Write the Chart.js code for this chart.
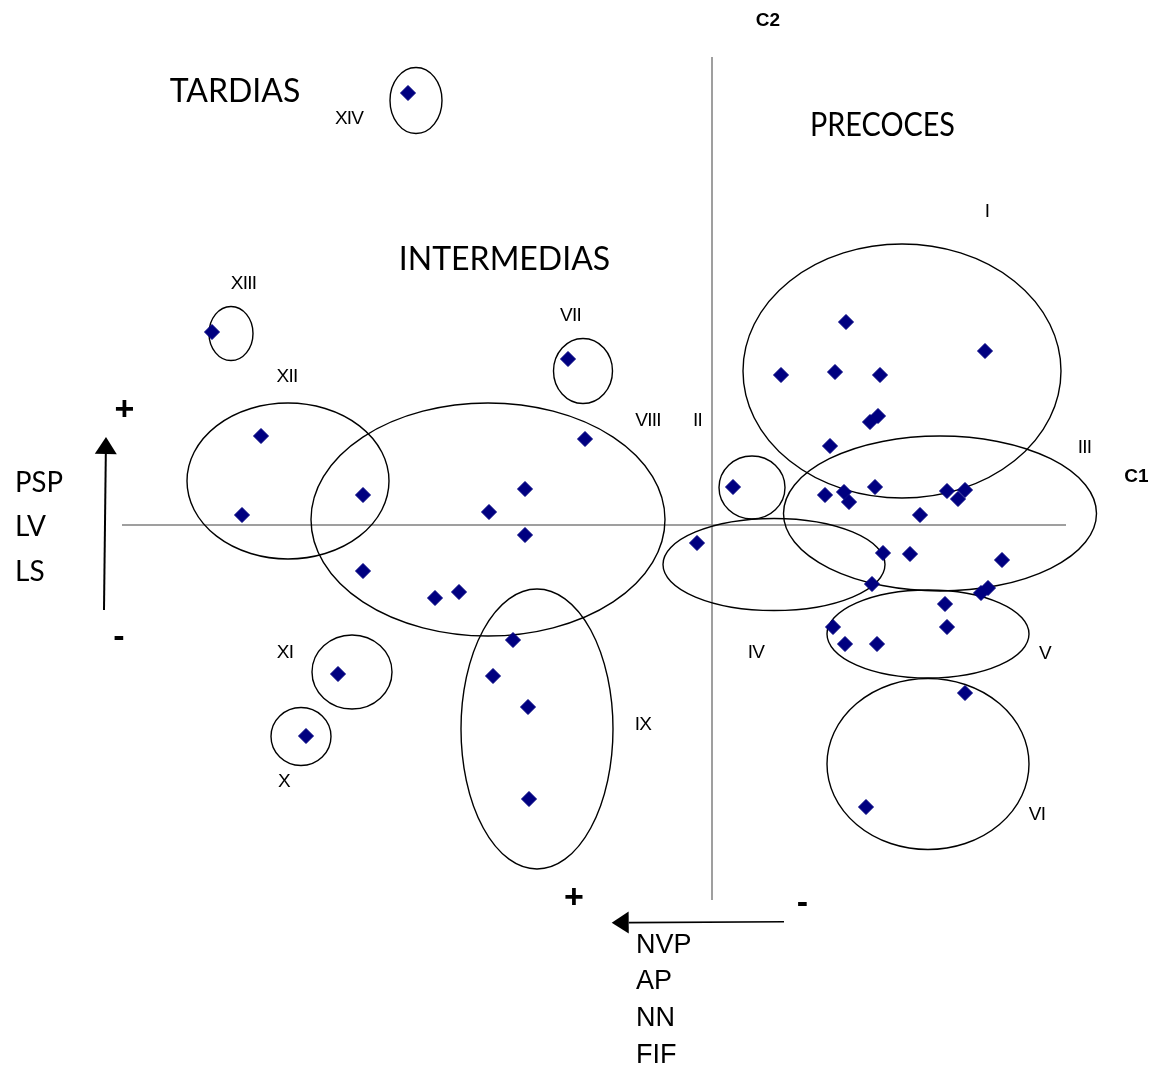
<!DOCTYPE html>
<html>
<head>
<meta charset="utf-8">
<title>C1 / C2</title>
<script src="https://cdn.jsdelivr.net/npm/chart.js@4/dist/chart.umd.min.js"></script>
<style>
  html, body { margin: 0; padding: 0; background: #fff; }
  #wrap { width: 1163px; height: 1072px; position: relative; }
</style>
</head>
<body>
<div id="wrap"><canvas id="scoreChart"></canvas></div>
<script>
// Scores of each accession on the two components
const scoresC1 = [
  1.34, 2.73, 0.69, 1.23, 1.68, 1.58, 1.66, 1.18,
  0.21,
  1.13, 1.32, 1.37, 1.63, 2.35, 2.53, 2.46, 2.08, 1.71, 1.98, 2.90, 1.60, 2.76, 2.69, 2.33,
  2.35, 1.21, 1.33, 1.65,
  2.53, 1.54,
  -0.15,
  -3.04, -5.00, -1.44,
  -4.51, -4.70, -3.49, -3.49, -2.77, -2.53, -2.23, -1.87, -1.87, -1.27,
  -1.99, -2.19, -1.84, -1.83,
  -3.74, -4.06
];
const scoresC2 = [
  2.03, 1.74, 1.50, 1.53, 1.50, 1.03, 1.09, 0.79,
  0.38,
  0.30, 0.33, 0.23, 0.38, 0.34, 0.35, 0.26, 0.10, -0.28, -0.29, -0.35, -0.59, -0.63, -0.68, -0.79,
  -1.02, -1.02, -1.19, -1.19,
  -1.68, -2.82,
  -0.18,
  4.32, 1.93, 1.66,
  0.89, 0.10, 0.30, -0.46, -0.73, -0.67, 0.13, 0.36, -0.10, 0.86,
  -1.15, -1.51, -1.82, -2.74,
  -1.49, -2.11
];

// Groups circled on the plot (centre and half axes, in score units)
const groupNames = ["I", "II", "III", "IV", "V", "VI", "VII", "VIII", "IX", "X", "XI", "XII", "XIII", "XIV"];
const groupCx = [1.90, 0.40, 2.28, 0.62, 2.16, 2.16, -1.29, -2.24, -1.75, -4.11, -3.60, -4.24, -4.81, -2.96];
const groupCy = [1.54, 0.375, 0.115, -0.395, -1.09, -2.39, 1.54, 0.055, -2.04, -2.115, -1.47, 0.44, 1.915, 4.245];
const groupRx = [1.59, 0.33, 1.565, 1.11, 1.01, 1.01, 0.295, 1.77, 0.76, 0.30, 0.40, 1.01, 0.22, 0.26];
const groupRy = [1.27, 0.315, 0.775, 0.46, 0.44, 0.855, 0.325, 1.165, 1.40, 0.29, 0.37, 0.78, 0.27, 0.33];
const groupLabelX = [2.75, -0.145, 3.725, 0.44, 3.33, 3.25, -1.415, -0.64, -0.69, -4.28, -4.27, -4.25, -4.685, -3.63];
const groupLabelY = [3.13, 1.04, 0.775, -1.28, -1.285, -2.895, 2.09, 1.04, -2.00, -2.57, -1.28, 1.48, 2.41, 4.06];

// Visible window and drawn component axes
const c1Range = [-7.12, 4.51];
const c2Range = [-5.47, 5.25];
const c1AxisExtent = [-5.90, 3.54];
const c2AxisExtent = [-3.75, 4.68];

// Maturity classes
const classNames = ["TARDIAS", "INTERMEDIAS", "PRECOCES"];
const classX = [-4.77, -2.075, 1.705];
const classY = [4.33, 2.65, 3.99];

// Variables loading on each component
const c2Vars = ["PSP", "LV", "LS"];
const c2VarsY = [0.42, -0.02, -0.47];
const c1Vars = ["NVP", "AP", "NN", "FIF"];
const c1VarsY = [-4.21, -4.57, -4.94, -5.305];

const comicFont = "Lato, 'Open Sans', sans-serif";
const plainFont = "'Liberation Sans', Arial, sans-serif";

function drawArrow(ctx, x1, y1, x2, y2) {
  const ang = Math.atan2(y2 - y1, x2 - x1);
  const head = 17, half = 11;
  ctx.beginPath();
  ctx.moveTo(x1, y1);
  ctx.lineTo(x2 - Math.cos(ang) * head, y2 - Math.sin(ang) * head);
  ctx.stroke();
  ctx.beginPath();
  ctx.moveTo(x2, y2);
  ctx.lineTo(x2 - Math.cos(ang) * head + Math.sin(ang) * half, y2 - Math.sin(ang) * head - Math.cos(ang) * half);
  ctx.lineTo(x2 - Math.cos(ang) * head - Math.sin(ang) * half, y2 - Math.sin(ang) * head + Math.cos(ang) * half);
  ctx.closePath();
  ctx.fill();
}

// Draws the axes, group ellipses and all the text around the scatter
const overlay = {
  id: "overlay",
  beforeDatasetsDraw(chart) {
    const { ctx, scales: { x, y } } = chart;
    ctx.save();

    // component axes
    ctx.strokeStyle = "#808080";
    ctx.lineWidth = 1.5;
    ctx.beginPath();
    ctx.moveTo(x.getPixelForValue(c1AxisExtent[0]), y.getPixelForValue(0));
    ctx.lineTo(x.getPixelForValue(c1AxisExtent[1]), y.getPixelForValue(0));
    ctx.moveTo(x.getPixelForValue(0), y.getPixelForValue(c2AxisExtent[0]));
    ctx.lineTo(x.getPixelForValue(0), y.getPixelForValue(c2AxisExtent[1]));
    ctx.stroke();

    // group ellipses
    ctx.strokeStyle = "#000";
    ctx.lineWidth = 1.4;
    groupNames.forEach((g, i) => {
      const cx = x.getPixelForValue(groupCx[i]);
      const cy = y.getPixelForValue(groupCy[i]);
      const rx = Math.abs(x.getPixelForValue(groupCx[i] + groupRx[i]) - cx);
      const ry = Math.abs(y.getPixelForValue(groupCy[i] + groupRy[i]) - cy);
      ctx.beginPath();
      ctx.ellipse(cx, cy, rx, ry, 0, 0, Math.PI * 2);
      ctx.stroke();
    });
    ctx.restore();
  },
  afterDraw(chart) {
    const { ctx, scales: { x, y } } = chart;
    ctx.save();
    ctx.fillStyle = "#000";
    ctx.textAlign = "center";
    ctx.textBaseline = "middle";

    // group numbers
    ctx.font = "19px " + plainFont;
    ctx.letterSpacing = "-0.8px";
    groupNames.forEach((g, i) => {
      ctx.fillText(g, x.getPixelForValue(groupLabelX[i]), y.getPixelForValue(groupLabelY[i]));
    });
    ctx.letterSpacing = "0px";

    // class titles
    ctx.font = "32px " + comicFont;
    const classWidth = [135, 214, 145];
    classNames.forEach((t, i) => {
      ctx.fillText(t, x.getPixelForValue(classX[i]), y.getPixelForValue(classY[i]), classWidth[i]);
    });

    // component names
    ctx.font = "bold 19px " + plainFont;
    ctx.fillText("C2", x.getPixelForValue(0.56), y.getPixelForValue(5.04));
    ctx.fillText("C1", x.getPixelForValue(4.245), y.getPixelForValue(0.485));

    // variables on C2 (left)
    ctx.textAlign = "left";
    ctx.font = "28px " + comicFont;
    c2Vars.forEach((v, i) => {
      ctx.fillText(v, x.getPixelForValue(-6.97), y.getPixelForValue(c2VarsY[i]), v.length * 16);
    });

    // variables on C1 (bottom)
    ctx.font = "27px " + plainFont;
    c1Vars.forEach((v, i) => {
      ctx.fillText(v, x.getPixelForValue(-0.76), y.getPixelForValue(c1VarsY[i]));
    });

    // signs
    ctx.textAlign = "center";
    ctx.font = "bold 34px " + plainFont;
    ctx.fillText("+", x.getPixelForValue(-5.875), y.getPixelForValue(1.14));
    ctx.fillText("-", x.getPixelForValue(-5.93), y.getPixelForValue(-1.13));
    ctx.fillText("+", x.getPixelForValue(-1.38), y.getPixelForValue(-3.735));
    ctx.fillText("-", x.getPixelForValue(0.905), y.getPixelForValue(-3.79));

    // direction arrows
    ctx.strokeStyle = "#000";
    ctx.lineWidth = 2;
    drawArrow(ctx, x.getPixelForValue(-6.08), y.getPixelForValue(-0.85), x.getPixelForValue(-6.06), y.getPixelForValue(0.88));
    ctx.lineWidth = 1.6;
    drawArrow(ctx, x.getPixelForValue(0.72), y.getPixelForValue(-3.967), x.getPixelForValue(-1.003), y.getPixelForValue(-3.977));
    ctx.restore();
  }
};

const ctx = document.getElementById("scoreChart").getContext("2d");
const chart = new Chart(ctx, {
  type: "scatter",
  data: {
    datasets: [
      {
        label: "Accesiones",
        data: scoresC1.map((v, i) => ({ x: v, y: scoresC2[i] })),
        pointStyle: "rectRot",
        pointRadius: 7.5,
        pointHoverRadius: 7.5,
        backgroundColor: "#000080",
        borderColor: "#000080",
        borderWidth: 1,
      },
    ],
  },
  options: {
    responsive: true,
    maintainAspectRatio: false,
    animation: false,
    layout: { padding: 0, autoPadding: false },
    plugins: {
      legend: { display: false },
      tooltip: { enabled: false },
    },
    scales: {
      x: { type: "linear", min: c1Range[0], max: c1Range[1], display: false },
      y: { type: "linear", min: c2Range[0], max: c2Range[1], display: false },
    },
  },
  plugins: [overlay],
});
</script>
</body>
</html>
